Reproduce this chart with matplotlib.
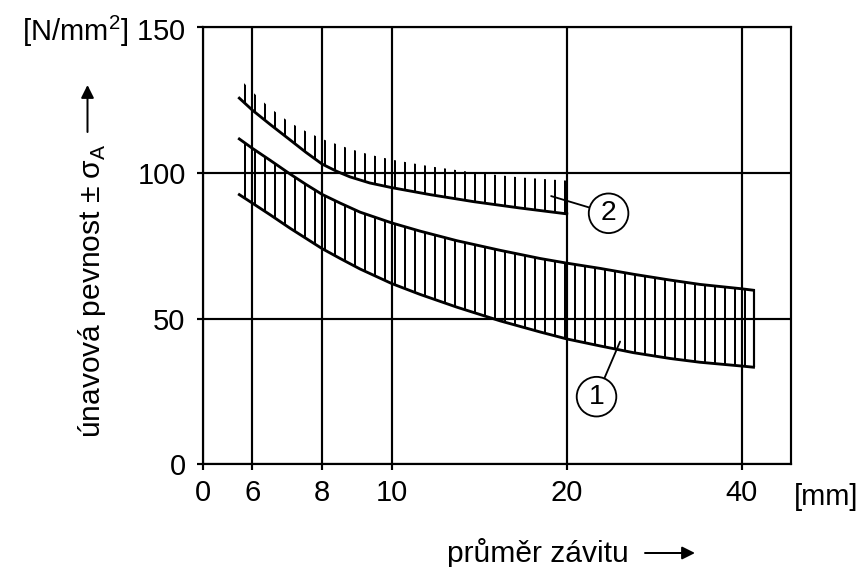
import numpy as np
import matplotlib
matplotlib.use("Agg")
import matplotlib.pyplot as plt

# thread diameter [mm] and fatigue strength [N/mm2]
d1 = [4.41, 6.0, 6.51, 7.08, 7.54, 8.0, 8.52, 9.09, 10.0, 11.18, 12.94, 15.36,
      17.99, 20.0, 22.82, 26.03, 30.1, 33.9, 40.0, 41.9]
band1_hi = [111.6, 108.4, 104.3, 99.6, 96.0, 92.6, 89.6, 86.5, 82.8, 80.0, 76.7, 73.4,
            70.6, 69.0, 67.2, 65.2, 63.2, 61.7, 60.2, 59.7]
band1_lo = [92.5, 89.6, 85.6, 81.0, 77.5, 74.0, 70.6, 67.0, 62.0, 58.3, 53.9, 49.2,
            45.4, 43.0, 40.6, 38.3, 36.3, 35.0, 33.7, 33.3]

d2 = [4.41, 6.0, 6.51, 7.08, 7.54, 8.0, 8.42, 8.8, 9.37, 10.0, 11.64, 13.82, 16.63, 20.0]
band2_lo = [125.6, 121.5, 116.6, 111.3, 107.0, 103.0, 100.5, 98.6, 96.5, 94.9, 92.5,
            90.1, 87.9, 85.9]
band2_hi = [132.4, 127.8, 122.2, 117.2, 114.2, 111.6, 109.8, 108.2, 106.2, 104.5, 102.2,
            100.1, 98.4, 97.3]

x_ticks = [0, 6, 8, 10, 20, 40]
x_tick_labels = ["0", "6", "8", "10", "20", "40"]
y_ticks = [0, 50, 100, 150]
y_tick_labels = ["0", "50", "100", "[N/mm$^\\mathregular{2}$] 150"]

# callouts: (label, point on band, circle centre)
callouts = [("1", (24.7, 42.1), (22.5, 23.2)),
            ("2", (18.8, 92.0), (23.6, 86.1))]

plt.rcParams.update({"font.family": ["Liberation Sans", "DejaVu Sans"],
                     "mathtext.fontset": "custom", "mathtext.rm": "Liberation Sans",
                     "hatch.linewidth": 1.2, "axes.linewidth": 1.3})

# axis is linear 0..10, logarithmic above 10
K6, K10, DEC = 49.0, 188.4, 581.4


def fwd(d):
    d = np.asarray(d, dtype=float)
    with np.errstate(divide="ignore", invalid="ignore"):
        lg = K10 + DEC * np.log10(np.where(d > 0, d, 1.0) / 10.0)
    return np.where(d < 10, np.interp(d, [0, 6, 10], [0, K6, K10]), lg)


def inv(u):
    u = np.asarray(u, dtype=float)
    return np.where(u < K10, np.interp(u, [0, K6, K10], [0, 6, 10]),
                    10.0 * 10 ** ((u - K10) / DEC))


W, H, DPI = 863, 567, 120
fig = plt.figure(figsize=(W / DPI, H / DPI), dpi=DPI)
ax = fig.add_axes([203.3 / W, 1 - 464.3 / H, (791 - 203.3) / W, (464.3 - 27) / H])
ax.set_xscale("function", functions=(fwd, inv))
ax.set_xlim(0, 48.6)
ax.set_ylim(0, 150)

ax.set_xticks(x_ticks, labels=x_tick_labels)
ax.set_yticks(y_ticks, labels=y_tick_labels)
ax.minorticks_off()
ax.tick_params(direction="out", length=3.6, width=1.3, labelsize=17.5, color="black")
ax.tick_params(axis="x", pad=5)
ax.tick_params(axis="y", pad=7)
ax.grid(True, color="black", lw=1.3)
ax.set_axisbelow(True)
for s in ax.spines.values():
    s.set_color("black")

# band 1: two solid limits, hatched between
ax.fill_between(d1, band1_lo, band1_hi, facecolor="none", edgecolor="black",
                linewidth=0, hatch="||")
ax.plot(d1, band1_hi, color="black", lw=1.7)
ax.plot(d1, band1_lo, color="black", lw=1.7)
ax.vlines(d1[-1], band1_lo[-1], band1_hi[-1], color="black", lw=1.3)

# band 2: solid lower limit, hatched upward
ax.fill_between(d2, band2_lo, band2_hi, facecolor="none", edgecolor="black",
                linewidth=0, hatch="||")
ax.plot(d2, band2_lo, color="black", lw=1.7)

for lab, pt, ctr in callouts:
    ax.annotate(lab, xy=pt, xytext=ctr, ha="center", va="center", fontsize=17,
                bbox=dict(boxstyle="circle,pad=0.24", fc="white", ec="black", lw=1.1),
                arrowprops=dict(arrowstyle="-", color="black", lw=1.1, shrinkA=0, shrinkB=0))

# axis labels with arrows
fig.text(100 / W, 1 - 438 / H, "únavová pevnost ± σ$_\\mathregular{A}$", rotation=90,
         rotation_mode="anchor", ha="left", va="baseline", fontsize=18)
ax.annotate("", xy=(87.5 / W, 1 - 85 / H), xytext=(87.5 / W, 1 - 132 / H),
            xycoords="figure fraction", textcoords="figure fraction",
            arrowprops=dict(arrowstyle="-|>", color="black", lw=1.2, mutation_scale=16,
                            shrinkA=0, shrinkB=0))
fig.text(446.7 / W, 1 - 561.7 / H, "průměr závitu", ha="left", va="baseline", fontsize=18)
ax.annotate("", xy=(695 / W, 1 - 553 / H), xytext=(645 / W, 1 - 553 / H),
            xycoords="figure fraction", textcoords="figure fraction",
            arrowprops=dict(arrowstyle="-|>", color="black", lw=1.2, mutation_scale=16,
                            shrinkA=0, shrinkB=0))
fig.text(826 / W, 1 - 505 / H, "[mm]", ha="center", va="baseline", fontsize=17.5)

fig.savefig("out.png", dpi=DPI, facecolor="white")
